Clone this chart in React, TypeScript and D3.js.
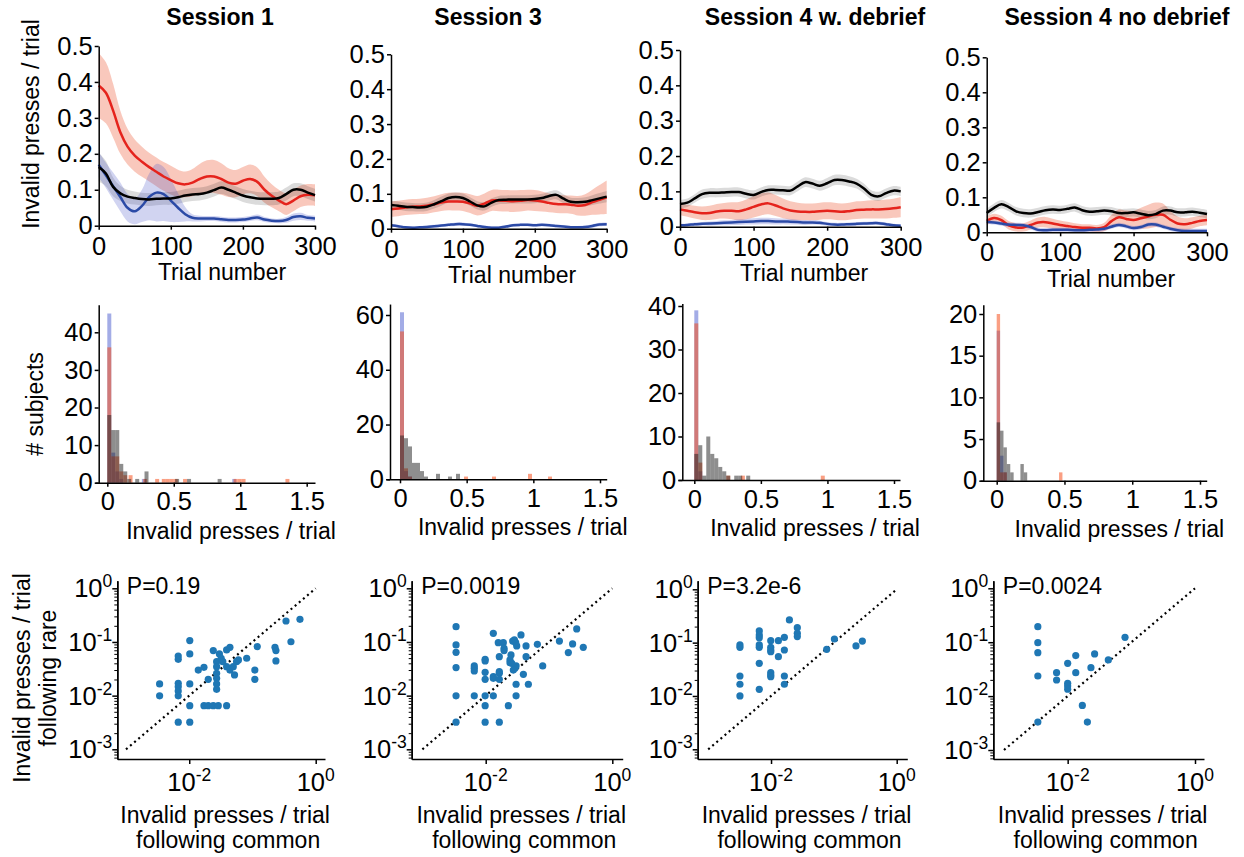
import React, { useEffect, useRef } from 'react';
import * as d3 from 'd3';

const FONT = '"Liberation Sans", Arial, Helvetica, sans-serif';
const FS = 23;
const TFS = 25.5;
const SUP = 17.5;

// ---------- Row 1: invalid presses over trials ----------
const trialNumbers = [0, 10, 20, 30, 40, 50, 60, 70, 80, 90, 100, 110, 120, 130, 140, 150, 160, 170, 180, 190, 200, 210, 220, 230, 240, 250, 260, 270, 280, 290, 300];
const lineYTicks = [0, 0.1, 0.2, 0.3, 0.4, 0.5];
const lineXTicks = [0, 100, 200, 300];

const s1Red = [0.39, 0.37, 0.32, 0.26, 0.22, 0.195, 0.178, 0.163, 0.15, 0.137, 0.127, 0.118, 0.115, 0.12, 0.13, 0.137, 0.137, 0.13, 0.12, 0.117, 0.125, 0.13, 0.122, 0.1, 0.083, 0.07, 0.06, 0.07, 0.082, 0.086, 0.085];
const s1RedSem = [0.09, 0.085, 0.075, 0.06, 0.05, 0.045, 0.042, 0.04, 0.04, 0.04, 0.04, 0.038, 0.036, 0.038, 0.042, 0.045, 0.046, 0.044, 0.04, 0.038, 0.038, 0.04, 0.04, 0.036, 0.032, 0.03, 0.03, 0.03, 0.03, 0.03, 0.03];
const s1Black = [0.163, 0.145, 0.108, 0.09, 0.081, 0.077, 0.074, 0.073, 0.075, 0.076, 0.076, 0.079, 0.084, 0.087, 0.088, 0.092, 0.099, 0.106, 0.1, 0.092, 0.084, 0.079, 0.076, 0.075, 0.075, 0.077, 0.088, 0.1, 0.1, 0.092, 0.085];
const s1BlackSem = [0.04, 0.035, 0.026, 0.021, 0.019, 0.018, 0.018, 0.018, 0.018, 0.018, 0.018, 0.018, 0.018, 0.018, 0.018, 0.018, 0.018, 0.018, 0.018, 0.018, 0.018, 0.018, 0.018, 0.018, 0.018, 0.018, 0.018, 0.018, 0.018, 0.018, 0.018];
const s1Blue = [0.17, 0.14, 0.11, 0.08, 0.05, 0.04, 0.055, 0.08, 0.092, 0.088, 0.07, 0.05, 0.032, 0.022, 0.02, 0.02, 0.02, 0.018, 0.016, 0.016, 0.017, 0.02, 0.023, 0.017, 0.014, 0.013, 0.016, 0.024, 0.026, 0.022, 0.02];
const s1BlueSem = [0.035, 0.035, 0.038, 0.04, 0.038, 0.036, 0.045, 0.065, 0.08, 0.075, 0.06, 0.04, 0.02, 0.01, 0.008, 0.007, 0.007, 0.007, 0.007, 0.007, 0.007, 0.007, 0.008, 0.007, 0.006, 0.006, 0.008, 0.01, 0.01, 0.008, 0.008];

const s3Red = [0.056, 0.058, 0.061, 0.063, 0.064, 0.066, 0.07, 0.075, 0.078, 0.078, 0.077, 0.072, 0.066, 0.072, 0.081, 0.081, 0.08, 0.079, 0.08, 0.082, 0.081, 0.078, 0.074, 0.071, 0.07, 0.069, 0.066, 0.068, 0.076, 0.083, 0.09];
const s3RedSem = [0.022, 0.022, 0.022, 0.022, 0.022, 0.023, 0.023, 0.024, 0.025, 0.026, 0.026, 0.027, 0.028, 0.029, 0.03, 0.031, 0.031, 0.031, 0.031, 0.03, 0.03, 0.029, 0.027, 0.026, 0.026, 0.026, 0.028, 0.031, 0.036, 0.042, 0.048];
const s3Black = [0.068, 0.066, 0.063, 0.062, 0.061, 0.063, 0.07, 0.079, 0.088, 0.091, 0.088, 0.078, 0.067, 0.064, 0.075, 0.082, 0.083, 0.084, 0.084, 0.084, 0.085, 0.088, 0.094, 0.097, 0.086, 0.077, 0.076, 0.077, 0.082, 0.087, 0.092];
const s3BlackSem = [0.012, 0.012, 0.012, 0.012, 0.012, 0.012, 0.012, 0.013, 0.013, 0.013, 0.013, 0.012, 0.012, 0.012, 0.012, 0.012, 0.012, 0.012, 0.012, 0.012, 0.012, 0.012, 0.013, 0.013, 0.013, 0.012, 0.012, 0.013, 0.014, 0.015, 0.016];
const s3Blue = [0.01, 0.007, 0.004, 0.003, 0.004, 0.005, 0.007, 0.009, 0.011, 0.013, 0.013, 0.011, 0.008, 0.005, 0.003, 0.003, 0.006, 0.01, 0.011, 0.011, 0.01, 0.011, 0.01, 0.008, 0.006, 0.004, 0.004, 0.005, 0.008, 0.012, 0.013];
const s3BlueSem = [0.004, 0.004, 0.004, 0.004, 0.004, 0.004, 0.004, 0.004, 0.004, 0.005, 0.005, 0.004, 0.004, 0.004, 0.004, 0.004, 0.004, 0.004, 0.004, 0.004, 0.004, 0.004, 0.004, 0.004, 0.004, 0.004, 0.004, 0.004, 0.005, 0.005, 0.005];

const s4wRed = [0.049, 0.045, 0.041, 0.038, 0.039, 0.043, 0.045, 0.045, 0.044, 0.049, 0.056, 0.063, 0.066, 0.06, 0.052, 0.046, 0.043, 0.042, 0.042, 0.044, 0.045, 0.044, 0.042, 0.044, 0.047, 0.048, 0.049, 0.049, 0.05, 0.052, 0.055];
const s4wRedSem = [0.016, 0.017, 0.018, 0.019, 0.02, 0.021, 0.022, 0.024, 0.026, 0.028, 0.03, 0.031, 0.031, 0.03, 0.028, 0.026, 0.025, 0.024, 0.024, 0.024, 0.024, 0.024, 0.024, 0.024, 0.025, 0.025, 0.026, 0.026, 0.027, 0.027, 0.028];
const s4wBlack = [0.064, 0.068, 0.08, 0.092, 0.096, 0.096, 0.097, 0.098, 0.098, 0.093, 0.09, 0.098, 0.104, 0.104, 0.103, 0.102, 0.114, 0.126, 0.122, 0.116, 0.123, 0.132, 0.132, 0.128, 0.122, 0.108, 0.09, 0.086, 0.095, 0.102, 0.1];
const s4wBlackSem = [0.012, 0.012, 0.012, 0.013, 0.013, 0.013, 0.013, 0.013, 0.013, 0.013, 0.013, 0.013, 0.013, 0.013, 0.013, 0.013, 0.014, 0.014, 0.014, 0.014, 0.015, 0.015, 0.015, 0.015, 0.014, 0.014, 0.013, 0.013, 0.013, 0.013, 0.013];
const s4wBlue = [0.004, 0.005, 0.007, 0.008, 0.009, 0.01, 0.011, 0.012, 0.013, 0.014, 0.015, 0.016, 0.016, 0.015, 0.015, 0.014, 0.013, 0.012, 0.012, 0.011, 0.008, 0.006, 0.006, 0.007, 0.008, 0.009, 0.01, 0.01, 0.007, 0.004, 0.003];
const s4wBlueSem = [0.004, 0.004, 0.005, 0.005, 0.006, 0.006, 0.007, 0.007, 0.008, 0.008, 0.009, 0.009, 0.009, 0.009, 0.008, 0.008, 0.007, 0.007, 0.006, 0.006, 0.005, 0.005, 0.005, 0.005, 0.005, 0.005, 0.005, 0.005, 0.005, 0.004, 0.004];

const s4nRed = [0.033, 0.041, 0.035, 0.02, 0.014, 0.014, 0.021, 0.028, 0.029, 0.025, 0.021, 0.018, 0.015, 0.013, 0.013, 0.011, 0.015, 0.032, 0.043, 0.038, 0.035, 0.04, 0.045, 0.05, 0.05, 0.036, 0.025, 0.023, 0.027, 0.032, 0.035];
const s4nRedSem = [0.012, 0.012, 0.012, 0.012, 0.012, 0.012, 0.013, 0.014, 0.015, 0.014, 0.013, 0.012, 0.011, 0.01, 0.01, 0.01, 0.012, 0.018, 0.022, 0.024, 0.026, 0.03, 0.034, 0.035, 0.032, 0.025, 0.02, 0.017, 0.016, 0.015, 0.015];
const s4nBlack = [0.055, 0.07, 0.08, 0.072, 0.06, 0.055, 0.054, 0.058, 0.063, 0.065, 0.064, 0.067, 0.071, 0.063, 0.059, 0.06, 0.062, 0.06, 0.055, 0.055, 0.057, 0.053, 0.049, 0.052, 0.062, 0.062, 0.057, 0.057, 0.059, 0.056, 0.052];
const s4nBlackSem = [0.012, 0.012, 0.012, 0.012, 0.012, 0.012, 0.012, 0.012, 0.012, 0.012, 0.012, 0.012, 0.012, 0.012, 0.012, 0.012, 0.012, 0.012, 0.012, 0.012, 0.012, 0.012, 0.012, 0.012, 0.012, 0.012, 0.012, 0.012, 0.012, 0.012, 0.012];
const s4nBlue = [0.03, 0.028, 0.025, 0.022, 0.021, 0.02, 0.015, 0.007, 0.006, 0.007, 0.007, 0.007, 0.006, 0.006, 0.007, 0.008, 0.01, 0.016, 0.021, 0.017, 0.012, 0.015, 0.022, 0.022, 0.016, 0.01, 0.006, 0.004, 0.004, 0.004, 0.004];
const s4nBlueSem = [0.006, 0.006, 0.006, 0.006, 0.006, 0.006, 0.006, 0.006, 0.006, 0.006, 0.006, 0.006, 0.006, 0.006, 0.006, 0.006, 0.006, 0.006, 0.006, 0.006, 0.006, 0.006, 0.006, 0.006, 0.006, 0.006, 0.006, 0.006, 0.006, 0.006, 0.006];

const sessionTitles = ['Session 1', 'Session 3', 'Session 4 w. debrief', 'Session 4 no debrief'];

// ---------- Row 2: histograms ([bin left edge, # subjects]) ----------
const histXTicks = [0, 0.5, 1, 1.5];
const histBinWidths = [0.03, 0.03, 0.03, 0.025];
const histYTicks = [[0, 10, 20, 30, 40], [0, 20, 40, 60], [0, 10, 20, 30, 40], [0, 5, 10, 15, 20]];

const h1Blue = [[0, 45], [0.03, 8], [0.06, 3], [0.09, 1], [0.26, 1], [0.94, 1]];
const h1Red = [[0, 36], [0.03, 7], [0.06, 7], [0.09, 3], [0.12, 2], [0.16, 2], [0.27, 1], [0.36, 1], [0.41, 1], [0.44, 1], [0.47, 1], [0.5, 1], [0.57, 1], [0.95, 1], [0.98, 1], [1.01, 1], [1.34, 1]];
const h1Black = [[0, 18], [0.03, 14], [0.06, 14], [0.09, 5], [0.12, 3], [0.15, 1], [0.21, 1], [0.28, 3], [0.51, 1], [0.6, 1], [0.83, 1]];

const h2Blue = [[0, 61], [0.03, 3], [0.06, 1]];
const h2Red = [[0, 54], [0.03, 4], [0.06, 1], [0.48, 1], [0.69, 1], [0.96, 2], [1.11, 1]];
const h2Black = [[0, 16], [0.03, 15], [0.06, 12], [0.09, 6], [0.12, 6], [0.15, 3], [0.18, 1], [0.27, 2], [0.36, 1], [0.42, 2]];

const h3Blue = [[0, 39], [0.03, 2]];
const h3Red = [[0, 36], [0.03, 4], [0.24, 1], [0.35, 1], [0.95, 1]];
const h3Black = [[0, 6], [0.03, 8], [0.06, 1], [0.09, 10], [0.12, 6], [0.15, 5], [0.18, 3], [0.21, 2], [0.24, 1], [0.3, 1], [0.33, 1], [0.39, 1]];

const h4Blue = [[0, 18], [0.025, 3], [0.05, 1]];
const h4Red = [[0, 20], [0.025, 1], [0.05, 1], [0.46, 1]];
const h4Black = [[0, 7], [0.025, 6], [0.05, 4], [0.075, 2], [0.1, 1], [0.175, 2], [0.2, 1]];

// ---------- Row 3: scatter ([following common, following rare]) ----------
const pValues = ['P=0.19', 'P=0.0019', 'P=3.2e-6', 'P=0.0024'];
const scatterYTickExp = [0, -1, -2, -3];
const scatterXTickExp = [-2, 0];

const sc1 = [[0.0034, 0.0165], [0.0034, 0.0099], [0.0067, 0.0548], [0.0067, 0.0475], [0.0067, 0.017], [0.0067, 0.0147], [0.0067, 0.0122], [0.0067, 0.0099], [0.0067, 0.0032], [0.0102, 0.106], [0.0102, 0.0598], [0.0102, 0.0165], [0.0102, 0.0065], [0.0102, 0.0032], [0.0139, 0.03], [0.0171, 0.0337], [0.02, 0.0201], [0.024, 0.069], [0.0171, 0.0065], [0.02, 0.0065], [0.024, 0.0065], [0.0288, 0.0065], [0.039, 0.0065], [0.0271, 0.043], [0.0271, 0.0347], [0.0271, 0.026], [0.0271, 0.021], [0.0271, 0.0165], [0.0271, 0.0131], [0.03, 0.0598], [0.032, 0.0497], [0.034, 0.043], [0.039, 0.071], [0.044, 0.0796], [0.039, 0.0347], [0.044, 0.03], [0.0497, 0.0347], [0.052, 0.0243], [0.056, 0.043], [0.06, 0.0462], [0.081, 0.0497], [0.109, 0.03], [0.109, 0.0201], [0.119, 0.082], [0.227, 0.0796], [0.235, 0.069], [0.235, 0.0443], [0.339, 0.246], [0.406, 0.101], [0.564, 0.264]];
const sc2 = [[0.0034, 0.193], [0.0034, 0.0879], [0.0034, 0.0642], [0.0034, 0.0333], [0.0034, 0.0099], [0.0034, 0.0032], [0.0066, 0.0357], [0.0066, 0.0323], [0.0066, 0.0288], [0.0066, 0.0099], [0.0098, 0.0475], [0.0098, 0.0443], [0.0098, 0.0272], [0.0098, 0.0201], [0.0098, 0.0099], [0.0098, 0.0065], [0.0098, 0.0032], [0.0132, 0.145], [0.0132, 0.0226], [0.0132, 0.021], [0.0132, 0.0099], [0.0158, 0.0972], [0.0164, 0.0533], [0.0164, 0.028], [0.0164, 0.0261], [0.0164, 0.0201], [0.0164, 0.0032], [0.019, 0.0972], [0.0195, 0.0762], [0.0195, 0.069], [0.0228, 0.0065], [0.0242, 0.0462], [0.0242, 0.0412], [0.0251, 0.0573], [0.0267, 0.104], [0.0284, 0.109], [0.0298, 0.0972], [0.0309, 0.0842], [0.0302, 0.0099], [0.0302, 0.0163], [0.0302, 0.0357], [0.029, 0.0323], [0.0361, 0.135], [0.0394, 0.025], [0.0434, 0.0842], [0.0434, 0.0533], [0.0472, 0.0163], [0.0655, 0.0905], [0.0795, 0.0357], [0.146, 0.104], [0.202, 0.0633], [0.236, 0.0918], [0.274, 0.175], [0.348, 0.0796], [0.0258, 0.04], [0.0273, 0.03]];
const sc3 = [[0.0032, 0.0904], [0.0032, 0.0817], [0.0032, 0.0237], [0.0032, 0.0166], [0.0032, 0.01], [0.0065, 0.166], [0.0065, 0.139], [0.0065, 0.124], [0.0065, 0.0904], [0.0065, 0.0817], [0.0065, 0.041], [0.0065, 0.0133], [0.0099, 0.109], [0.0099, 0.0817], [0.0099, 0.0728], [0.0099, 0.0678], [0.0099, 0.0274], [0.0099, 0.0248], [0.0099, 0.023], [0.0131, 0.109], [0.0131, 0.0546], [0.0163, 0.126], [0.0163, 0.0728], [0.0163, 0.0237], [0.0163, 0.0166], [0.0196, 0.266], [0.0262, 0.191], [0.0262, 0.15], [0.0262, 0.13], [0.0769, 0.075], [0.102, 0.117], [0.225, 0.0866], [0.284, 0.107]];
const sc4 = [[0.0034, 0.194], [0.0034, 0.0982], [0.0034, 0.064], [0.0034, 0.0236], [0.0034, 0.0033], [0.0067, 0.0272], [0.0067, 0.0199], [0.01, 0.0406], [0.01, 0.0173], [0.01, 0.0154], [0.01, 0.0134], [0.0134, 0.0564], [0.0134, 0.0272], [0.017, 0.0067], [0.0204, 0.0033], [0.0232, 0.0337], [0.0265, 0.0605], [0.0435, 0.0468], [0.0796, 0.123]];

// ---------- layout ----------
const RED = '#e5231c';
const BLUE = '#2b4aa6';
const BLACK = '#000000';
const RED_BAND = 'rgba(238,110,80,0.38)';
const GRAY_BAND = 'rgba(0,0,0,0.14)';
const BLUE_BAND = 'rgba(70,85,200,0.25)';
const H_BLUE = 'rgba(50,70,200,0.45)';
const H_RED = 'rgba(245,80,30,0.55)';
const H_BLACK = 'rgba(30,30,30,0.5)';
const DOT = '#1f77b4';

const lineLayout = [
  { x0: 98.7, x1: 315, yZero: 225.7, yTop: 46, titleX: 220, labelX: 222 },
  { x0: 391, x1: 606.7, yZero: 228.7, yTop: 54.3, titleX: 488, labelX: 512 },
  { x0: 680, x1: 900.7, yZero: 226.7, yTop: 50, titleX: 815, labelX: 804 },
  { x0: 986.7, x1: 1207, yZero: 232.3, yTop: 57.3, titleX: 1117, labelX: 1111 },
];
const histLayout = [
  { yAxisX: 98.7, xAt0: 107.3, xAt15: 306.7, lineL: 95, lineR: 315, yZero: 482.7, tickV: 40, yAtTick: 332.3, top: 47.3 },
  { yAxisX: 390, xAt0: 400, xAt15: 600, lineL: 386.7, lineR: 606.7, yZero: 479.3, tickV: 60, yAtTick: 315, top: 64 },
  { yAxisX: 682.3, xAt0: 694.3, xAt15: 894, lineL: 678, lineR: 900, yZero: 480, tickV: 40, yAtTick: 306, top: 40.6 },
  { yAxisX: 983.3, xAt0: 996.7, xAt15: 1200, lineL: 980, lineR: 1206.7, yZero: 480.7, tickV: 20, yAtTick: 314, top: 21.1 },
];
const scatterLayout = [
  { yAxisX: 117.3, xLo: 126, xHi: 315.7, xEnd: 325, yHi: 588.3, yLo: 749.3 },
  { yAxisX: 411.7, xLo: 422.4, xHi: 612.3, xEnd: 622.7, yHi: 588.3, yLo: 749.3 },
  { yAxisX: 697.7, xLo: 708.2, xHi: 896.7, xEnd: 907.3, yHi: 589.3, yLo: 749.3 },
  { yAxisX: 993.3, xLo: 1004, xHi: 1195, xEnd: 1204, yHi: 588.3, yLo: 750 },
];
const SC_XAXIS_Y = 759;
const SC_YAXIS_TOP = 580.7;

const lineData = [
  { red: s1Red, redSem: s1RedSem, black: s1Black, blackSem: s1BlackSem, blue: s1Blue, blueSem: s1BlueSem },
  { red: s3Red, redSem: s3RedSem, black: s3Black, blackSem: s3BlackSem, blue: s3Blue, blueSem: s3BlueSem },
  { red: s4wRed, redSem: s4wRedSem, black: s4wBlack, blackSem: s4wBlackSem, blue: s4wBlue, blueSem: s4wBlueSem },
  { red: s4nRed, redSem: s4nRedSem, black: s4nBlack, blackSem: s4nBlackSem, blue: s4nBlue, blueSem: s4nBlueSem },
];
const histData = [
  { blue: h1Blue, red: h1Red, black: h1Black },
  { blue: h2Blue, red: h2Red, black: h2Black },
  { blue: h3Blue, red: h3Red, black: h3Black },
  { blue: h4Blue, red: h4Red, black: h4Black },
];
const scatterData = [sc1, sc2, sc3, sc4];

function styleAxis(g: any) {
  g.attr('font-family', FONT).attr('font-size', TFS);
  g.selectAll('.domain').attr('stroke', '#000').attr('stroke-width', 1.5);
  g.selectAll('.tick line').attr('stroke', '#000').attr('stroke-width', 1.5);
  g.selectAll('.tick text').attr('fill', '#000').attr('font-size', TFS).attr('font-family', FONT);
}

function addText(svg: any, x: number, y: number, txt: string, opts: any = {}) {
  const t = svg.append('text')
    .attr('x', x).attr('y', y)
    .attr('font-family', FONT)
    .attr('font-size', opts.size || FS)
    .attr('font-weight', opts.weight || 'normal')
    .attr('text-anchor', opts.anchor || 'middle')
    .attr('fill', '#000')
    .text(txt);
  if (opts.rotate) t.attr('transform', `rotate(-90 ${x} ${y})`);
  return t;
}

function pow10Label(svg: any, x: number, y: number, exp: number, anchor: string) {
  const t = svg.append('text')
    .attr('x', x).attr('y', y)
    .attr('font-family', FONT).attr('font-size', TFS)
    .attr('text-anchor', anchor).attr('fill', '#000');
  t.append('tspan').text('10');
  t.append('tspan').attr('font-size', SUP).attr('dy', -10).text(String(exp));
}

function draw(el: SVGSVGElement) {
  const svg = d3.select(el);
  svg.selectAll('*').remove();

  // ---------- Row 1 ----------
  lineLayout.forEach((L, pi) => {
    const D = lineData[pi];
    const x = d3.scaleLinear().domain([0, 300]).range([L.x0, L.x1]);
    const y = d3.scaleLinear().domain([0, 0.5]).range([L.yZero, L.yTop]);
    const g = svg.append('g');
    const series = [
      { v: D.red, s: D.redSem, c: RED, b: RED_BAND },
      { v: D.black, s: D.blackSem, c: BLACK, b: GRAY_BAND },
      { v: D.blue, s: D.blueSem, c: BLUE, b: BLUE_BAND },
    ];
    series.forEach(S => {
      const area = d3.area<number>()
        .x((_, i) => x(trialNumbers[i]))
        .y0((d, i) => y(Math.max(0, d - S.s[i])))
        .y1((d, i) => y(d + S.s[i]))
        .curve(d3.curveCatmullRom);
      g.append('path').attr('d', area(S.v)).attr('fill', S.b).attr('stroke', 'none');
    });
    [series[0], series[2], series[1]].forEach(S => {
      const line = d3.line<number>()
        .x((_, i) => x(trialNumbers[i]))
        .y(d => y(d))
        .curve(d3.curveCatmullRom);
      g.append('path').attr('d', line(S.v)).attr('fill', 'none').attr('stroke', S.c).attr('stroke-width', 2.5);
    });
    const ya = svg.append('g').attr('transform', `translate(${L.x0},0)`)
      .call(d3.axisLeft(y).tickValues(lineYTicks).tickSize(4).tickSizeOuter(0).tickPadding(2)
        .tickFormat((d: any) => (d === 0 ? '0' : d3.format('.1f')(d))));
    styleAxis(ya);
    const xa = svg.append('g').attr('transform', `translate(0,${L.yZero})`)
      .call(d3.axisBottom(x).tickValues(lineXTicks).tickSize(4).tickSizeOuter(0).tickPadding(7)
        .tickFormat((d: any) => String(d)));
    styleAxis(xa);
    addText(svg, L.titleX, 25, sessionTitles[pi], { weight: 'bold' });
    addText(svg, L.labelX, L.yZero + 54.5, 'Trial number');
  });
  addText(svg, 39, 124, 'Invalid presses / trial', { rotate: true });

  // ---------- Row 2 ----------
  histLayout.forEach((L, pi) => {
    const H = histData[pi];
    const w = histBinWidths[pi];
    const x = d3.scaleLinear().domain([0, 1.5]).range([L.xAt0, L.xAt15]);
    const y = d3.scaleLinear().domain([0, L.tickV]).range([L.yZero, L.yAtTick]);
    const g = svg.append('g');
    const groups = [
      { bins: H.blue, c: H_BLUE },
      { bins: H.red, c: H_RED },
      { bins: H.black, c: H_BLACK },
    ];
    groups.forEach(G => {
      g.selectAll(null).data(G.bins).enter().append('rect')
        .attr('x', (d: any) => x(d[0]))
        .attr('width', (d: any) => x(d[0] + w) - x(d[0]))
        .attr('y', (d: any) => y(d[1]))
        .attr('height', (d: any) => y(0) - y(d[1]))
        .attr('fill', G.c);
    });
    const xAxisScale = d3.scaleLinear().domain([x.invert(L.lineL), x.invert(L.lineR)]).range([L.lineL, L.lineR]);
    const xa = svg.append('g').attr('transform', `translate(0,${L.yZero})`)
      .call(d3.axisBottom(xAxisScale).tickValues(histXTicks).tickSize(4).tickSizeOuter(0).tickPadding(5.5)
        .tickFormat((d: any) => String(d)));
    styleAxis(xa);
    const yAxisScale = d3.scaleLinear().domain([0, L.top]).range([L.yZero, y(L.top)]);
    const ya = svg.append('g').attr('transform', `translate(${L.yAxisX},0)`)
      .call(d3.axisLeft(yAxisScale).tickValues(histYTicks[pi]).tickSize(4).tickSizeOuter(0).tickPadding(2)
        .tickFormat((d: any) => String(d)));
    styleAxis(ya);
    addText(svg, (L.lineL + L.lineR) / 2 + 26, L.yZero + 56, 'Invalid presses / trial');
  });
  addText(svg, 43, 404, '# subjects', { rotate: true });

  // ---------- Row 3 ----------
  scatterLayout.forEach((L, pi) => {
    const pts = scatterData[pi];
    const x = d3.scaleLog().domain([1e-3, 1]).range([L.xLo, L.xHi]);
    const y = d3.scaleLog().domain([1e-3, 1]).range([L.yLo, L.yHi]);
    const g = svg.append('g');
    g.append('line')
      .attr('x1', x(1e-3)).attr('y1', y(1e-3)).attr('x2', x(1)).attr('y2', y(1))
      .attr('stroke', '#000').attr('stroke-width', 2.2).attr('stroke-dasharray', '2 3.4');
    g.selectAll(null).data(pts).enter().append('circle')
      .attr('cx', (d: any) => x(d[0])).attr('cy', (d: any) => y(d[1]))
      .attr('r', 3.6).attr('fill', DOT);
    const xAxisScale = d3.scaleLog().domain([x.invert(L.yAxisX), x.invert(L.xEnd)]).range([L.yAxisX, L.xEnd]);
    const xa = svg.append('g').attr('transform', `translate(0,${SC_XAXIS_Y})`)
      .call(d3.axisBottom(xAxisScale).tickValues(scatterXTickExp.map(e => Math.pow(10, e))).tickSize(5).tickSizeOuter(0)
        .tickFormat(() => ''));
    styleAxis(xa);
    const yAxisScale = d3.scaleLog().domain([y.invert(SC_XAXIS_Y), y.invert(SC_YAXIS_TOP)]).range([SC_XAXIS_Y, SC_YAXIS_TOP]);
    const minor = yAxisScale.ticks().filter((v: number) => {
      const m = Math.round(v / Math.pow(10, Math.floor(Math.log10(v) + 1e-9)));
      return m !== 1;
    });
    const ym = svg.append('g').attr('transform', `translate(${L.yAxisX},0)`)
      .call(d3.axisLeft(yAxisScale).tickValues(minor).tickSize(3).tickSizeOuter(0).tickFormat(() => ''));
    styleAxis(ym);
    ym.selectAll('.tick line').attr('stroke-width', 1);
    const ya = svg.append('g').attr('transform', `translate(${L.yAxisX},0)`)
      .call(d3.axisLeft(yAxisScale).tickValues(scatterYTickExp.map(e => Math.pow(10, e))).tickSize(5).tickSizeOuter(0)
        .tickFormat(() => ''));
    styleAxis(ya);
    scatterYTickExp.forEach(e => pow10Label(svg, L.yAxisX - 5, y(Math.pow(10, e)) + 9, e, 'end'));
    scatterXTickExp.forEach(e => pow10Label(svg, x(Math.pow(10, e)), SC_XAXIS_Y + 32, e, 'middle'));
    addText(svg, L.yAxisX + 9.5, 593.5, pValues[pi], { anchor: 'start' });
    const cx = (L.yAxisX + L.xEnd) / 2 + 4;
    addText(svg, cx, 823, 'Invalid presses / trial');
    addText(svg, cx + 3, 848, 'following common');
  });
  addText(svg, 30, 678, 'Invalid presses / trial', { rotate: true });
  addText(svg, 56, 678, 'following rare', { rotate: true });
}

export default function App() {
  const ref = useRef<SVGSVGElement>(null);
  useEffect(() => {
    if (ref.current) draw(ref.current);
  }, []);
  return (
    <svg
      ref={ref}
      width={1244}
      height={857}
      style={{ position: 'absolute', left: 0, top: 0, background: '#fff' }}
    />
  );
}
